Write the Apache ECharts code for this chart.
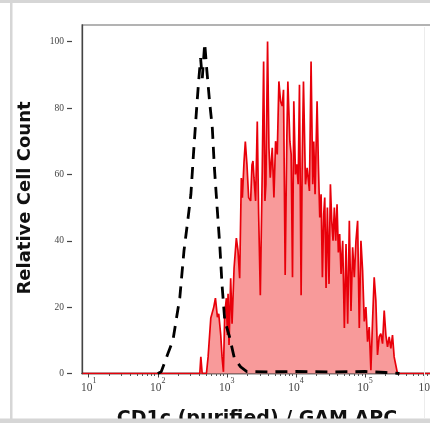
<!DOCTYPE html>
<html>
<head>
<meta charset="utf-8">
<script src="https://cdn.jsdelivr.net/npm/echarts@6/dist/echarts.min.js"></script>
<style>
html, body { margin: 0; padding: 0; overflow: hidden; background: #fff; }
#chart { width: 440px; height: 423px; }
</style>
</head>
<body>
<div id="chart"></div>
<script>
// Exponents (log10 of fluorescence) and relative counts
const redExp = [0.91, 2.537, 2.609, 2.624, 2.643, 2.705, 2.729, 2.768, 2.787, 2.811, 2.835, 2.864, 2.883, 2.912, 2.931, 2.951, 2.970, 2.994, 3.008, 3.018, 3.032, 3.056, 3.076, 3.105, 3.138, 3.162, 3.186, 3.210, 3.225, 3.249, 3.268, 3.292, 3.316, 3.345, 3.364, 3.379, 3.393, 3.417, 3.441, 3.461, 3.485, 3.513, 3.533, 3.552, 3.566, 3.590, 3.610, 3.629, 3.658, 3.682, 3.706, 3.730, 3.754, 3.778, 3.802, 3.821, 3.845, 3.869, 3.884, 3.913, 3.932, 3.951, 3.970, 3.994, 4.014, 4.033, 4.052, 4.076, 4.091, 4.110, 4.139, 4.163, 4.196, 4.220, 4.244, 4.259, 4.278, 4.307, 4.326, 4.346, 4.365, 4.384, 4.403, 4.418, 4.437, 4.456, 4.480, 4.500, 4.519, 4.538, 4.557, 4.577, 4.596, 4.615, 4.634, 4.654, 4.678, 4.702, 4.726, 4.750, 4.774, 4.798, 4.822, 4.846, 4.870, 4.894, 4.918, 4.942, 4.966, 4.990, 5.014, 5.038, 5.062, 5.086, 5.110, 5.134, 5.158, 5.182, 5.206, 5.230, 5.255, 5.279, 5.303, 5.327, 5.351, 5.375, 5.399, 5.423, 5.447, 5.471, 6.0];
const redVal = [0, 0, 0, 5, 0, 0, 5, 16.7, 17, 20, 22.7, 17, 18, 11.6, 5, 0.5, 18, 22.7, 11.6, 24, 8.6, 28.7, 15, 31.8, 40.8, 37, 28.7, 58.9, 53, 63.7, 69.9, 62.8, 53, 52, 62.8, 64, 59, 52, 75.9, 48, 23.6, 61, 94, 52, 57, 100, 68, 59, 68, 53, 70, 66, 88, 82, 80.6, 85.5, 29.7, 71, 88, 70, 66, 29, 82, 60, 63, 57, 87, 23.6, 63, 88, 57, 62, 55, 94, 57, 69.9, 54, 82, 63, 47, 54, 29, 48, 53, 25.8, 50, 27, 57, 46, 40, 50, 40, 51, 36.5, 42, 30, 40, 13.7, 39, 15, 46, 18.8, 38, 29, 40, 46, 13.7, 40, 31, 15.7, 20, 9.6, 14, 1, 15.7, 29, 22, 5.6, 11, 12, 9, 19, 11.6, 8, 11, 7.6, 11.6, 5, 5, 0, 0];

const ctrlExp = [2.0, 2.05, 2.15, 2.22, 2.32, 2.38, 2.44, 2.48, 2.52, 2.56, 2.59, 2.62, 2.645, 2.68, 2.71, 2.75, 2.79, 2.82, 2.86, 2.90, 2.93, 2.97, 3.04, 3.11, 3.2, 3.29, 3.6, 4.0, 4.5, 5.0, 5.3, 5.5];
const ctrlVal = [0, 0.5, 6.2, 10, 23, 37, 47, 54, 67, 79, 87.5, 95, 89, 99.5, 91.5, 82, 74, 62, 50, 38, 27, 16, 11, 4.5, 2, 0.6, 0.5, 0.6, 0.5, 0.6, 0.3, 0];

const yTicks = [0, 20, 40, 60, 80, 100];
const xDecades = [10, 100, 1000, 10000, 100000, 1000000];
const xTitle = 'CD1c (purified) / GAM APC';
const yTitle = 'Relative Cell Count';

const minorX = [];
for (let d = 10; d < 1e6; d *= 10) {
  for (let m = 2; m <= 9; m++) minorX.push(d * m);
}

const X_MIN = 8, X_MAX = 1e6;
const chart = echarts.init(document.getElementById('chart'), null, { renderer: 'canvas' });

function supLabel(v) {
  const e = Math.round(Math.log10(v));
  if (Math.abs(Math.pow(10, e) - v) / v > 0.01) return '';
  return '{b|10}{s|' + e + '}';
}

chart.setOption({
  animation: false,
  backgroundColor: '#ffffff',
  grid: [
    { left: 82, top: 25, right: 6, bottom: 49.5, show: true, borderColor: '#9a9a9a', borderWidth: 1.5, backgroundColor: 'transparent' },
    { left: 82, top: 41.7, right: 6, bottom: 49.5, show: false }
  ],
  xAxis: [
    {
      gridIndex: 0, type: 'log', logBase: 10, min: X_MIN, max: X_MAX,
      axisLine: { show: true, lineStyle: { color: '#333', width: 1.3 } },
      axisTick: { show: true, length: 4, lineStyle: { color: '#444' }, customValues: xDecades },
      splitLine: { show: false },
      axisLabel: {
        show: true, margin: 3, customValues: xDecades, alignMaxLabel: 'right',
        formatter: supLabel,
        rich: {
          b: { fontFamily: 'Liberation Serif', fontSize: 11.5, color: '#444', lineHeight: 17, verticalAlign: 'bottom' },
          s: { fontFamily: 'Liberation Serif', fontSize: 8, color: '#444', lineHeight: 8, verticalAlign: 'top' }
        }
      }
    },
    {
      gridIndex: 1, type: 'log', logBase: 10, min: X_MIN, max: X_MAX,
      axisLine: { show: false },
      axisTick: { show: true, length: 2.5, lineStyle: { color: '#555' }, customValues: minorX },
      axisLabel: { show: false },
      splitLine: { show: false }
    }
  ],
  yAxis: [
    {
      gridIndex: 0, type: 'value', min: 0, max: 105,
      axisLine: { show: true, lineStyle: { color: '#444', width: 1.3 } },
      axisTick: { show: false }, axisLabel: { show: false }, splitLine: { show: false }
    },
    {
      gridIndex: 1, type: 'value', min: 0, max: 100, interval: 20, offset: 10,
      axisLine: { show: false },
      axisTick: { show: true, length: 5, lineStyle: { color: '#444', width: 1.2 } },
      axisLabel: { show: true, margin: 8, fontFamily: 'Liberation Serif', fontSize: 9.5, color: '#444' },
      splitLine: { show: false }
    },
    {
      gridIndex: 1, type: 'value', min: 0, max: 100, interval: 5,
      axisLine: { show: false },
      axisTick: { show: true, length: 2.5, lineStyle: { color: '#666' } },
      axisLabel: { show: false }, splitLine: { show: false }
    }
  ],
  series: [
    {
      type: 'line', xAxisIndex: 0, yAxisIndex: 0, showSymbol: false, symbol: 'none',
      data: redExp.map((e, i) => [Math.pow(10, e), redVal[i]]),
      lineStyle: { color: '#e8000a', width: 1.7 },
      areaStyle: { color: '#f89a9a', opacity: 1 },
      z: 2
    },
    {
      type: 'line', xAxisIndex: 0, yAxisIndex: 0, showSymbol: false, symbol: 'none',
      data: ctrlExp.map((e, i) => [Math.pow(10, e), ctrlVal[i]]),
      lineStyle: { color: '#000', width: 2.8, type: [12, 8] },
      z: 3
    }
  ],
  graphic: [
    { type: 'text', z: 10, rotation: Math.PI / 2, x: 25, y: 198,
      style: { text: yTitle, font: 'bold 18px "DejaVu Sans"', fill: '#111', align: 'center', verticalAlign: 'middle' } },
    { type: 'text', z: 10, x: 257, y: 419.5,
      style: { text: xTitle, font: 'bold 19px "DejaVu Sans"', fill: '#111', align: 'center', verticalAlign: 'middle' } },
    { type: 'rect', z: 20, shape: { x: 0, y: 0, width: 440, height: 3 }, style: { fill: '#d6d6d6' } },
    { type: 'rect', z: 20, shape: { x: 10, y: 0, width: 2.5, height: 423 }, style: { fill: '#d6d6d6' } },
    { type: 'rect', z: 20, shape: { x: 0, y: 418.5, width: 440, height: 5 }, style: { fill: '#d6d6d6' } },
    { type: 'rect', z: 20, shape: { x: 424, y: 27, width: 1, height: 391 }, style: { fill: '#ececec' } }
  ]
});
</script>
</body>
</html>
